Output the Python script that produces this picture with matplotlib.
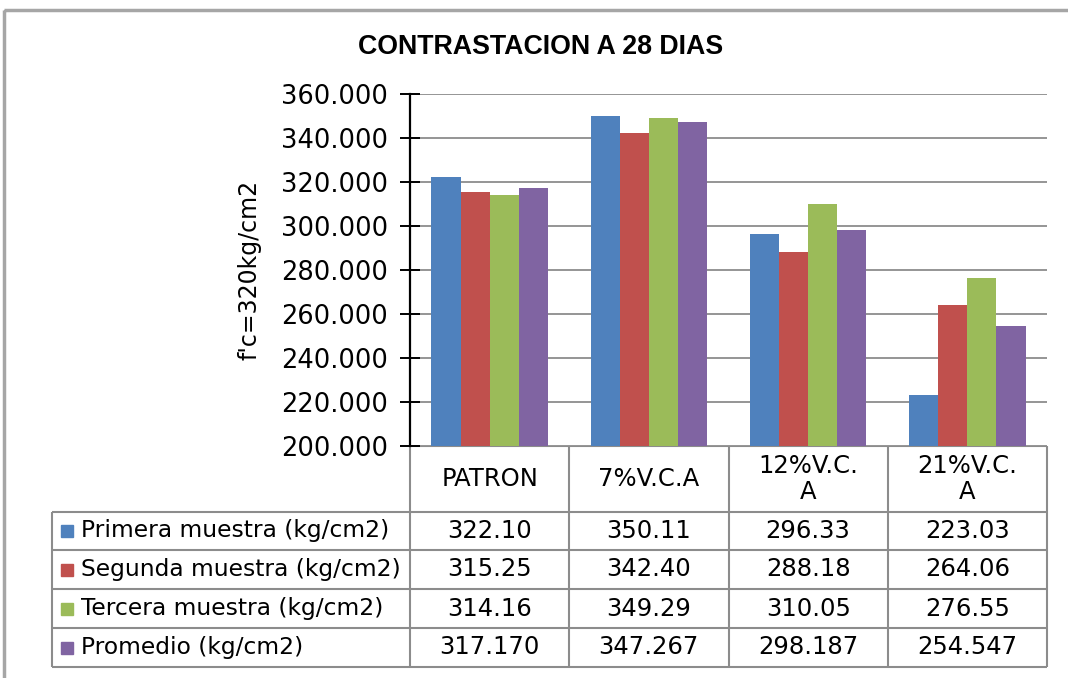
import matplotlib.pyplot as plt
from matplotlib.patches import Rectangle
import numpy as np

categorias = ["PATRON", "7%V.C.A", "12%V.C.\nA", "21%V.C.\nA"]
series = ["Primera muestra (kg/cm2)", "Segunda muestra (kg/cm2)",
          "Tercera muestra (kg/cm2)", "Promedio (kg/cm2)"]
primera = [322.10, 350.11, 296.33, 223.03]
segunda = [315.25, 342.40, 288.18, 264.06]
tercera = [314.16, 349.29, 310.05, 276.55]
promedio = [317.170, 347.267, 298.187, 254.547]
formatos = ["{:.2f}", "{:.2f}", "{:.2f}", "{:.3f}"]
colores = ["#4F81BD", "#C0504D", "#9BBB59", "#8064A2"]
valores = [primera, segunda, tercera, promedio]

W, H = 1068, 678
fig = plt.figure(figsize=(W / 100, H / 100), dpi=100)
fig.patch.set_facecolor("white")

# pixel layout
x0, x1 = 410, 1047
y_top, y_bot = 94, 446
tab_left = 52
fila_bordes = [446, 512, 550, 589, 628, 667]
grid_col = "#8c8c8c"

ax = fig.add_axes([x0 / W, 1 - y_bot / H, (x1 - x0) / W, (y_bot - y_top) / H])
x = np.arange(len(categorias))
ancho = 0.1825
for i, (vals, col) in enumerate(zip(valores, colores)):
    ax.bar(x + (i - 1.5) * ancho, vals, ancho, color=col, zorder=3)

ax.set_xlim(-0.5, 3.5)
ax.set_ylim(200, 360)
ax.set_yticks(np.arange(200, 361, 20))
ax.set_yticklabels(["{:.3f}".format(v) for v in np.arange(200, 361, 20)])
ax.set_xticks([])
ax.yaxis.grid(True, color=grid_col, lw=1.3)
ax.set_axisbelow(True)
for s in ["top", "right", "bottom"]:
    ax.spines[s].set_visible(False)
ax.spines["left"].set_linewidth(1.6)
ax.spines["left"].set_zorder(4)
ax.tick_params(axis="y", direction="inout", length=14, width=1.4,
               labelsize=18.5, pad=9, colors="black")
ax.set_ylabel("f'c=320kg/cm2", fontsize=17, labelpad=14)

fig.text(541 / W, 1 - 47 / H, "CONTRASTACION A 28 DIAS", ha="center", va="center",
         fontsize=19.3, fontweight="bold", family="Liberation Sans")

# table drawn in pixel coordinates
tax = fig.add_axes([0, 0, 1, 1], zorder=-1)
tax.set_xlim(0, W)
tax.set_ylim(H, 0)
tax.axis("off")

col_w = (x1 - x0) / len(categorias)
col_bordes = [x0 + k * col_w for k in range(len(categorias) + 1)]

lw = 1.5
tax.hlines(fila_bordes[0], x0, x1, color=grid_col, lw=lw)
for yb in fila_bordes[1:]:
    tax.hlines(yb, tab_left, x1, color=grid_col, lw=lw)
tax.vlines(tab_left, fila_bordes[1], fila_bordes[-1], color=grid_col, lw=lw)
for xb in col_bordes:
    tax.vlines(xb, fila_bordes[0], fila_bordes[-1], color=grid_col, lw=lw)

yc_head = (fila_bordes[0] + fila_bordes[1]) / 2
for k, cat in enumerate(categorias):
    tax.text(col_bordes[k] + col_w / 2, yc_head, cat, ha="center", va="center",
             fontsize=17.5, linespacing=1.1)

for i, (nombre, vals, col, fmt) in enumerate(zip(series, valores, colores, formatos)):
    yc = (fila_bordes[i + 1] + fila_bordes[i + 2]) / 2
    tax.add_patch(Rectangle((61, yc - 6), 12, 12, color=col))
    tax.text(81, yc, nombre, ha="left", va="center", fontsize=16.8)
    for k, v in enumerate(vals):
        tax.text(col_bordes[k] + col_w / 2, yc, fmt.format(v), ha="center",
                 va="center", fontsize=17.5)

# outer chart frame
tax.add_patch(Rectangle((4, 10), W, H, fill=False, edgecolor="#a6a6a6", lw=2.5))

fig.savefig("out.png", dpi=100)
